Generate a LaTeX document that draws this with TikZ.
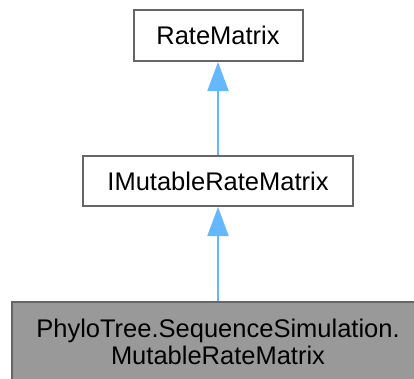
\documentclass[tikz,border=0pt]{standalone}
\usepackage{fontspec}
\setmainfont{Liberation Sans}
\usetikzlibrary{arrows.meta}
\definecolor{edgegray}{HTML}{666666}
\definecolor{fillgray}{HTML}{999999}
\definecolor{arrowblue}{HTML}{63B8FF}
\begin{document}
\begin{tikzpicture}[x=1pt,y=-1pt,
 cls/.style={draw=edgegray,line width=2pt,fill=white,inner sep=0pt,font=\fontsize{25.5}{27.6}\selectfont,align=center},
 inh/.style={draw=arrowblue,line width=2pt,-{Triangle[length=29pt,width=21pt,fill=arrowblue]}}]
\useasboundingbox (0,0) rectangle (414,378);
\node[cls,minimum width=169pt,minimum height=51pt] (rm) at (218,35.5) {RateMatrix};
\node[cls,minimum width=270pt,minimum height=50pt] (imr) at (218,181) {IMutableRateMatrix};
\node[cls,fill=fillgray,minimum width=412pt,minimum height=80pt] (mrm) at (218,342) {PhyloTree.SequenceSimulation.\\MutableRateMatrix};
\draw[inh] (mrm) -- (imr);
\draw[inh] (imr) -- (rm);
\end{tikzpicture}
\end{document}
